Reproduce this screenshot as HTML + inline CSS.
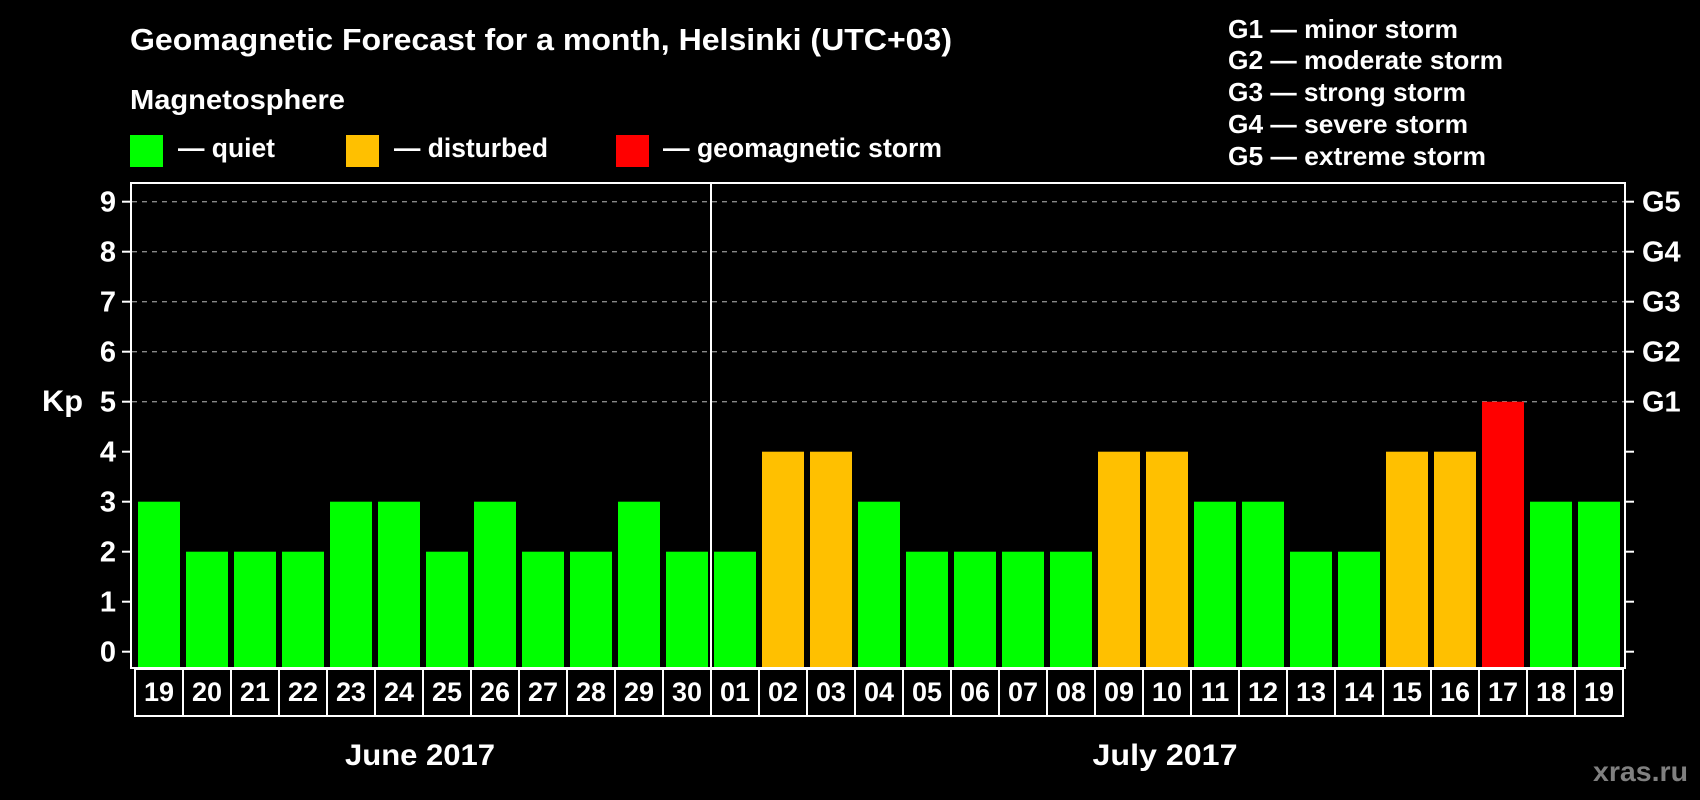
<!DOCTYPE html>
<html><head><meta charset="utf-8"><style>html,body{margin:0;padding:0;background:#000}svg{display:block}</style></head>
<body>
<svg xmlns="http://www.w3.org/2000/svg" width="1700" height="800" viewBox="0 0 1700 800" font-family="Liberation Sans, Arial, sans-serif" font-weight="bold" fill="#fff">
<rect width="1700" height="800" fill="#000"/>
<text x="130" y="50" font-size="31" textLength="822" lengthAdjust="spacingAndGlyphs">Geomagnetic Forecast for a month, Helsinki (UTC+03)</text>
<text x="130" y="109" font-size="28" textLength="215" lengthAdjust="spacingAndGlyphs">Magnetosphere</text>
<rect x="130" y="135" width="33" height="32" fill="#00ff00"/>
<text x="178" y="157" font-size="27" textLength="97" lengthAdjust="spacingAndGlyphs">— quiet</text>
<rect x="346" y="135" width="33" height="32" fill="#ffc000"/>
<text x="394" y="157" font-size="27" textLength="154" lengthAdjust="spacingAndGlyphs">— disturbed</text>
<rect x="616" y="135" width="33" height="32" fill="#ff0000"/>
<text x="663" y="157" font-size="27" textLength="279" lengthAdjust="spacingAndGlyphs">— geomagnetic storm</text>
<g font-size="26">
<text x="1228" y="38" textLength="230" lengthAdjust="spacingAndGlyphs">G1 — minor storm</text>
<text x="1228" y="69" textLength="275" lengthAdjust="spacingAndGlyphs">G2 — moderate storm</text>
<text x="1228" y="101" textLength="238" lengthAdjust="spacingAndGlyphs">G3 — strong storm</text>
<text x="1228" y="133" textLength="240" lengthAdjust="spacingAndGlyphs">G4 — severe storm</text>
<text x="1228" y="165" textLength="258" lengthAdjust="spacingAndGlyphs">G5 — extreme storm</text>
</g>
<text x="42" y="411" font-size="30" textLength="41" lengthAdjust="spacingAndGlyphs">Kp</text>
<g id="grid" stroke="#888" stroke-width="1.3" stroke-dasharray="5,5">
<line x1="132" y1="201.7" x2="1624" y2="201.7"/>
<line x1="132" y1="251.7" x2="1624" y2="251.7"/>
<line x1="132" y1="301.7" x2="1624" y2="301.7"/>
<line x1="132" y1="351.7" x2="1624" y2="351.7"/>
<line x1="132" y1="401.7" x2="1624" y2="401.7"/>
</g>
<g id="bars"></g>
<rect x="131" y="183" width="1494" height="485" fill="none" stroke="#fff" stroke-width="2"/>
<line x1="711" y1="183" x2="711" y2="668" stroke="#fff" stroke-width="2"/>
<g id="ticks" stroke="#fff" stroke-width="2"></g>
<g id="ylab" font-size="29" text-anchor="end"></g>
<g id="glab" font-size="29"></g>
<g id="days" font-size="27" text-anchor="middle"></g>
<text x="420" y="765" font-size="30" text-anchor="middle" textLength="150" lengthAdjust="spacingAndGlyphs">June 2017</text>
<text x="1165" y="765" font-size="30" text-anchor="middle" textLength="145" lengthAdjust="spacingAndGlyphs">July 2017</text>
<text x="1593" y="781" font-size="28" fill="#808080" textLength="95" lengthAdjust="spacingAndGlyphs">xras.ru</text>
<script>
<![CDATA[
var NS="http://www.w3.org/2000/svg";
function el(t,a,p,txt){var e=document.createElementNS(NS,t);for(var k in a)e.setAttribute(k,a[k]);if(txt!==undefined)e.textContent=txt;document.getElementById(p).appendChild(e);return e;}
var d=[3,2,2,2,3,3,2,3,2,2,3,2,2,4,4,3,2,2,2,2,4,4,3,3,2,2,4,4,5,3,3];
var lab=["19","20","21","22","23","24","25","26","27","28","29","30","01","02","03","04","05","06","07","08","09","10","11","12","13","14","15","16","17","18","19"];
function y(v){return 651.7-50*v;}
for(var i=0;i<31;i++){var v=d[i];var c=v>=5?"#ff0000":(v==4?"#ffc000":"#00ff00");
el("rect",{x:138+48*i,y:y(v),width:42,height:668-y(v),fill:c},"bars");
var bx=135+48*i;el("rect",{x:bx,y:669,width:48,height:47,fill:"none",stroke:"#fff","stroke-width":2},"bars");
el("text",{x:bx+24,y:701},"days",lab[i]);}
for(var v=0;v<=9;v++){el("line",{x1:122,y1:y(v),x2:131,y2:y(v)},"ticks");el("line",{x1:1625,y1:y(v),x2:1634,y2:y(v)},"ticks");
el("text",{x:116,y:y(v)+10},"ylab",""+v);if(v>=5)el("text",{x:1642,y:y(v)+10},"glab","G"+(v-4));}
]]>
</script>
</svg>
</body></html>
